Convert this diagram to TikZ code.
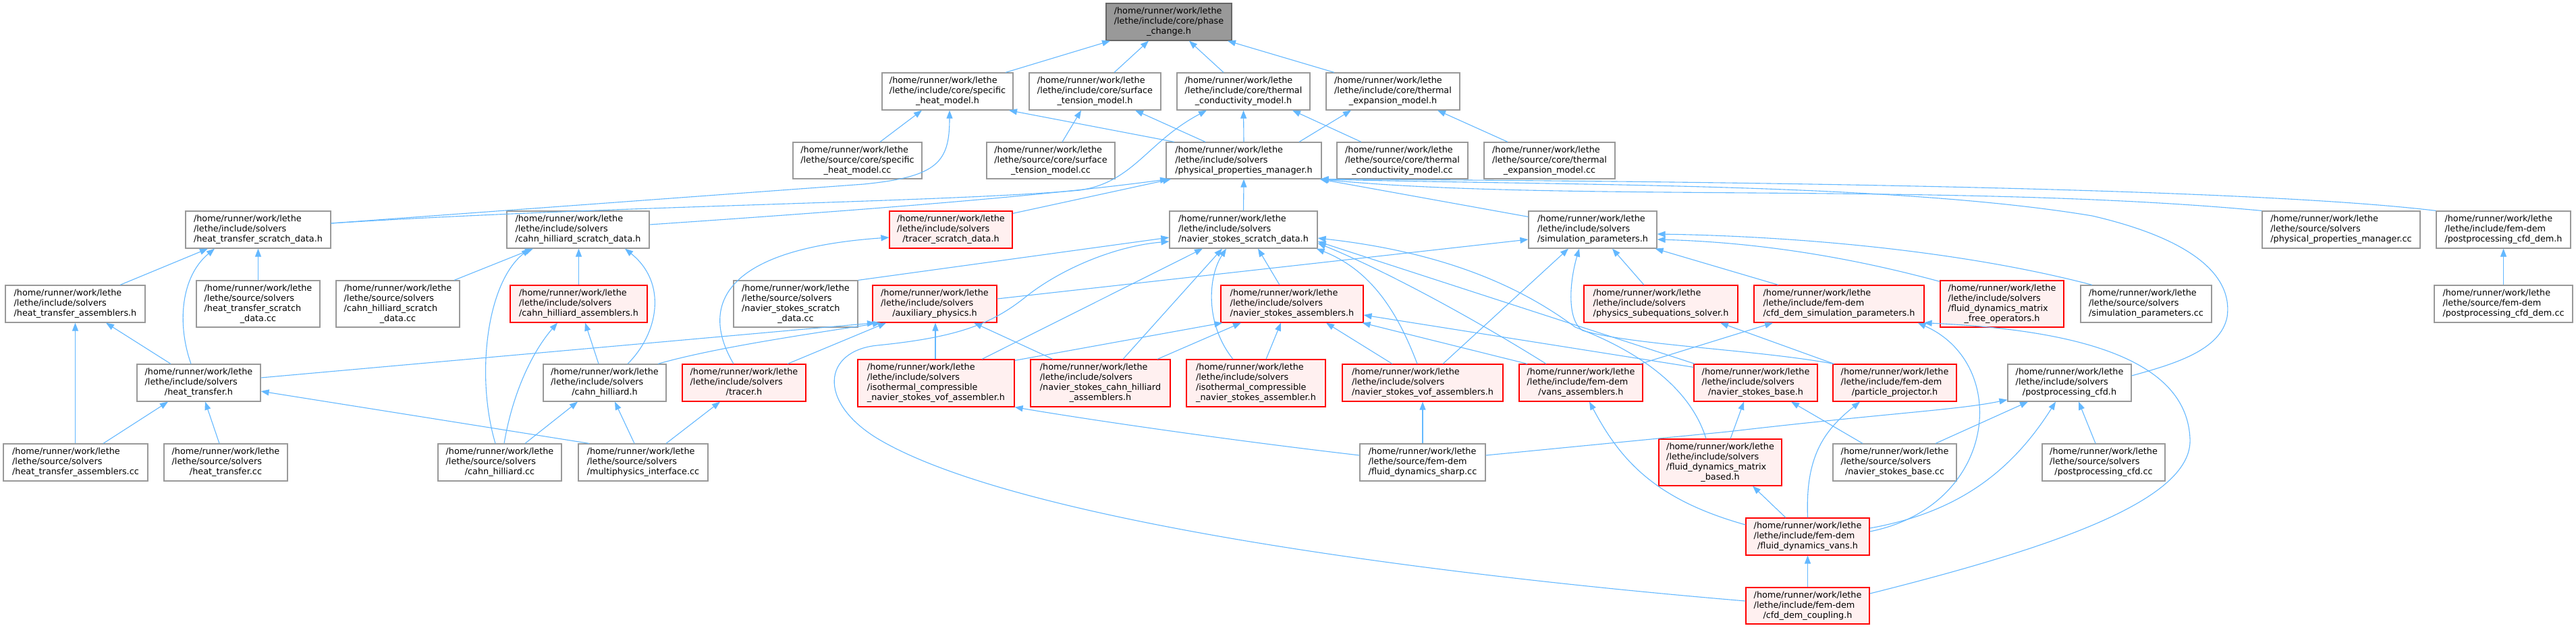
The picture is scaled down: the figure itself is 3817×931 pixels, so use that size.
\documentclass[tikz,border=0pt]{standalone}
\usepackage{fontspec}
\setmainfont{DejaVu Sans}
\usetikzlibrary{arrows.meta}
\definecolor{edgec}{HTML}{63B8FF}
\definecolor{grayb}{HTML}{999999}
\definecolor{rootf}{HTML}{999999}
\definecolor{rootb}{HTML}{666666}
\definecolor{redf}{HTML}{FFF0F0}
\definecolor{redb}{HTML}{FF0000}
\newcommand\lb[2]{\begin{tabular}{@{}l@{}}/home/runner/work/lethe\\#1\\\multicolumn{1}{@{}c@{}}{#2}\end{tabular}}
\newcommand\lbb[3]{\begin{tabular}{@{}l@{}}/home/runner/work/lethe\\#1\\#2\\\multicolumn{1}{@{}c@{}}{#3}\end{tabular}}
\newcommand\nd[6]{\node[#1,minimum width=#4pt,minimum height=#5pt] (#2) at (#3) {#6};}
\tikzset{
  basebox/.style={rectangle, inner sep=0pt, line width=1.2pt, font=\fontsize{12.8}{15}\selectfont, text=black},
  nb/.style={basebox, draw=grayb, fill=white},
  rb/.style={basebox, draw=redb, fill=redf},
  root/.style={basebox, draw=rootb, fill=rootf},
  inc/.style={draw=edgec, line width=1.1pt, -{Triangle[length=12pt,width=9pt]}}
}
\begin{document}
\begin{tikzpicture}[x=1pt,y=-1pt]
\fill[white] (0,0) rectangle (3817,931);
\useasboundingbox (0,0) rectangle (3817,931);
% row 0
\nd{root}{pc}{1732,32.5}{186}{55}{\lb{/lethe/include/core/phase}{\_change.h}}
% row 1
\nd{nb}{shm_h}{1404,135.5}{194}{55}{\lb{/lethe/include/core/specific}{\_heat\_model.h}}
\nd{nb}{stm_h}{1622.5,135.5}{195}{55}{\lb{/lethe/include/core/surface}{\_tension\_model.h}}
\nd{nb}{tcm_h}{1842.5,135.5}{197}{55}{\lb{/lethe/include/core/thermal}{\_conductivity\_model.h}}
\nd{nb}{tem_h}{2064,135.5}{198}{55}{\lb{/lethe/include/core/thermal}{\_expansion\_model.h}}
% row 2
\nd{nb}{shm_cc}{1270.5,238}{191}{54}{\lb{/lethe/source/core/specific}{\_heat\_model.cc}}
\nd{nb}{stm_cc}{1557,238}{190}{54}{\lb{/lethe/source/core/surface}{\_tension\_model.cc}}
\nd{nb}{ppm_h}{1843,238}{230}{54}{\lb{/lethe/include/solvers}{/physical\_properties\_manager.h}}
\nd{nb}{tcm_cc}{2078,238}{194}{54}{\lb{/lethe/source/core/thermal}{\_conductivity\_model.cc}}
\nd{nb}{tem_cc}{2296,238}{194}{54}{\lb{/lethe/source/core/thermal}{\_expansion\_model.cc}}
% row 3
\nd{nb}{htsd_h}{382.5,340.5}{215}{55}{\lb{/lethe/include/solvers}{/heat\_transfer\_scratch\_data.h}}
\nd{nb}{chsd_h}{856.5,340.5}{211}{55}{\lb{/lethe/include/solvers}{/cahn\_hilliard\_scratch\_data.h}}
\nd{rb}{tsd_h}{1409,340.5}{182}{55}{\lb{/lethe/include/solvers}{/tracer\_scratch\_data.h}}
\nd{nb}{nssd_h}{1842.5,340.5}{219}{55}{\lb{/lethe/include/solvers}{/navier\_stokes\_scratch\_data.h}}
\nd{nb}{sp_h}{2360,340.5}{190}{55}{\lb{/lethe/include/solvers}{/simulation\_parameters.h}}
\nd{nb}{ppm_cc}{3469,340.5}{234}{55}{\lb{/lethe/source/solvers}{/physical\_properties\_manager.cc}}
\nd{nb}{pcd_h}{3709.5,340.5}{199}{55}{\lb{/lethe/include/fem-dem}{/postprocessing\_cfd\_dem.h}}
% row 4
\nd{nb}{hta_h}{111.5,450.5}{207}{55}{\lb{/lethe/include/solvers}{/heat\_transfer\_assemblers.h}}
\nd{nb}{htsd_cc}{382.5,450.5}{183}{69}{\lbb{/lethe/source/solvers}{/heat\_transfer\_scratch}{\_data.cc}}
\nd{nb}{chsd_cc}{589.5,450.5}{183}{69}{\lbb{/lethe/source/solvers}{/cahn\_hilliard\_scratch}{\_data.cc}}
\nd{rb}{cha_h}{857.5,450.5}{203}{55}{\lb{/lethe/include/solvers}{/cahn\_hilliard\_assemblers.h}}
\nd{nb}{nssd_cc}{1179,450.5}{184}{69}{\lbb{/lethe/source/solvers}{/navier\_stokes\_scratch}{\_data.cc}}
\nd{rb}{aux_h}{1385,450.5}{184}{55}{\lb{/lethe/include/solvers}{/auxiliary\_physics.h}}
\nd{rb}{nsa_h}{1914.5,450.5}{211}{55}{\lb{/lethe/include/solvers}{/navier\_stokes\_assemblers.h}}
\nd{rb}{pss_h}{2461,450.5}{228}{55}{\lb{/lethe/include/solvers}{/physics\_subequations\_solver.h}}
\nd{rb}{cdsp_h}{2725,450.5}{252}{55}{\lb{/lethe/include/fem-dem}{/cfd\_dem\_simulation\_parameters.h}}
\nd{rb}{fdmfo_h}{2966.5,450.5}{183}{69}{\lbb{/lethe/include/solvers}{/fluid\_dynamics\_matrix}{\_free\_operators.h}}
\nd{nb}{sp_cc}{3180,450.5}{194}{55}{\lb{/lethe/source/solvers}{/simulation\_parameters.cc}}
\nd{nb}{pcd_cc}{3709.5,450.5}{205}{55}{\lb{/lethe/source/fem-dem}{/postprocessing\_cfd\_dem.cc}}
% row 5
\nd{nb}{ht_h}{294.5,567.5}{183}{55}{\lb{/lethe/include/solvers}{/heat\_transfer.h}}
\nd{nb}{ch_h}{896,567.5}{182}{55}{\lb{/lethe/include/solvers}{/cahn\_hilliard.h}}
\nd{rb}{tr_h}{1102.5,567.5}{183}{55}{\lb{/lethe/include/solvers}{/tracer.h}}
\nd{rb}{icnsvof_h}{1387,568}{232}{70}{\lbb{/lethe/include/solvers}{/isothermal\_compressible}{\_navier\_stokes\_vof\_assembler.h}}
\nd{rb}{nscha_h}{1630.5,568}{207}{70}{\lbb{/lethe/include/solvers}{/navier\_stokes\_cahn\_hilliard}{\_assemblers.h}}
\nd{rb}{icnsa_h}{1861,568}{206}{70}{\lbb{/lethe/include/solvers}{/isothermal\_compressible}{\_navier\_stokes\_assembler.h}}
\nd{rb}{nsvofa_h}{2108,567.5}{238}{55}{\lb{/lethe/include/solvers}{/navier\_stokes\_vof\_assemblers.h}}
\nd{rb}{vansa_h}{2342.5,567.5}{183}{55}{\lb{/lethe/include/fem-dem}{/vans\_assemblers.h}}
\nd{rb}{nsb_h}{2601.5,567.5}{183}{55}{\lb{/lethe/include/solvers}{/navier\_stokes\_base.h}}
\nd{rb}{pp_h}{2807.5,567.5}{183}{55}{\lb{/lethe/include/fem-dem}{/particle\_projector.h}}
\nd{nb}{pcfd_h}{3066.5,567.5}{183}{55}{\lb{/lethe/include/solvers}{/postprocessing\_cfd.h}}
% row 6
\nd{nb}{hta_cc}{112,685.5}{214}{55}{\lb{/lethe/source/solvers}{/heat\_transfer\_assemblers.cc}}
\nd{nb}{ht_cc}{334.5,685.5}{183}{55}{\lb{/lethe/source/solvers}{/heat\_transfer.cc}}
\nd{nb}{ch_cc}{740.5,685.5}{183}{55}{\lb{/lethe/source/solvers}{/cahn\_hilliard.cc}}
\nd{nb}{mpi_cc}{953,685.5}{192}{55}{\lb{/lethe/source/solvers}{/multiphysics\_interface.cc}}
\nd{nb}{fds_cc}{2108,685.5}{186}{55}{\lb{/lethe/source/fem-dem}{/fluid\_dynamics\_sharp.cc}}
\nd{rb}{fdmb_h}{2549,685.5}{182}{69}{\lbb{/lethe/include/solvers}{/fluid\_dynamics\_matrix}{\_based.h}}
\nd{nb}{nsb_cc}{2807.5,685.5}{183}{55}{\lb{/lethe/source/solvers}{/navier\_stokes\_base.cc}}
\nd{nb}{pcfd_cc}{3117,685.5}{182}{55}{\lb{/lethe/source/solvers}{/postprocessing\_cfd.cc}}
% rows 7-8
\nd{rb}{fdv_h}{2678.5,795.5}{183}{55}{\lb{/lethe/include/fem-dem}{/fluid\_dynamics\_vans.h}}
\nd{rb}{cdc_h}{2678.5,898}{183}{54}{\lb{/lethe/include/fem-dem}{/cfd\_dem\_coupling.h}}

% ---- edges (child -> included parent) ----
\draw[inc] ([xshift=86pt]shm_h.north) -- ([xshift=-87pt]pc.south);
\draw[inc] ([xshift=28.5pt]stm_h.north) -- ([xshift=-30pt]pc.south);
\draw[inc] ([xshift=-29.5pt]tcm_h.north) -- ([xshift=30pt]pc.south);
\draw[inc] ([xshift=-87pt]tem_h.north) -- ([xshift=87pt]pc.south);
\draw[inc] ([xshift=33.5pt]shm_cc.north) -- ([xshift=-38pt]shm_h.south);
\draw[inc] ([yshift=9.5pt]htsd_h.east) -- (1280,273) .. controls (1390,262) and (1407,240) .. ([xshift=3pt]shm_h.south);
\draw[inc] ([xshift=-103pt]ppm_h.north) -- ([xshift=91pt]shm_h.south);
\draw[inc] ([xshift=17pt]stm_cc.north) -- ([xshift=-20.5pt]stm_h.south);
\draw[inc] ([xshift=-57pt]ppm_h.north) -- ([xshift=59.5pt]stm_h.south);
\draw[inc] (ppm_h.north) -- (tcm_h.south);
\draw[inc] ([yshift=9.5pt]htsd_h.east) .. controls (900,305) and (1400,300) .. (1600,282) .. controls (1680,270) and (1700,210) .. ([xshift=-54.5pt]tcm_h.south);
\draw[inc] ([xshift=82pt]ppm_h.north) -- ([xshift=-62pt]tem_h.south);
\draw[inc] ([xshift=-61pt]tcm_cc.north) -- ([xshift=72.5pt]tcm_h.south);
\draw[inc] ([xshift=-62pt]tem_cc.north) -- ([xshift=66pt]tem_h.south);
\draw[inc] ([yshift=7.5pt]chsd_h.east) .. controls (1300,310) and (1550,290) .. ([xshift=-112pt]ppm_h.south);
\draw[inc] ([yshift=-4pt]tsd_h.north east) -- ([xshift=-108pt]ppm_h.south);
\draw[inc] (nssd_h.north) -- (ppm_h.south);
\draw[inc] ([yshift=-9pt]sp_h.north west) -- ([xshift=-3pt]ppm_h.south east);
\draw[inc] (ppm_cc.north west) .. controls (2900,270) and (2300,300) .. ([xshift=-2pt]ppm_h.south east);
\draw[inc] (pcd_h.north west) .. controls (3300,275) and (2400,268) .. ([xshift=-2pt]ppm_h.south east);
\draw[inc] ([yshift=10.5pt]pcfd_h.east) .. controls (3220,540) and (3290,520) .. (3300,470) .. controls (3310,400) and (3230,350) .. (3100,320) .. controls (2800,270) and (2300,275) .. ([xshift=-2pt]ppm_h.south east);
% heat transfer
\draw[inc] ([xshift=66.5pt]hta_h.north) -- ([xshift=-74.5pt]htsd_h.south);
\draw[inc] ([xshift=-11.5pt]ht_h.north) .. controls (262,480) and (268,410) .. ([xshift=-64.5pt]htsd_h.south);
\draw[inc] (htsd_cc.north) -- (htsd_h.south);
\draw[inc] ([xshift=-0.5pt]hta_cc.north) -- (hta_h.south);
\draw[inc] ([xshift=-41.5pt]ht_h.north) -- ([xshift=45.5pt]hta_h.south);
\draw[inc] ([xshift=41pt]hta_cc.north) -- ([xshift=-45.5pt]ht_h.south);
\draw[inc] ([xshift=-9.5pt]ht_cc.north) -- ([xshift=9.5pt]ht_h.south);
\draw[inc] ([yshift=7.5pt]ht_h.east) -- ([xshift=-88pt]aux_h.south);
\draw[inc] ([xshift=-80pt]mpi_cc.north) -- ([yshift=-12.5pt]ht_h.east);
% cahn hilliard
\draw[inc] ([xshift=83.5pt]chsd_cc.north) -- ([xshift=-66.5pt]chsd_h.south);
\draw[inc] (cha_h.north) -- ([xshift=1pt]chsd_h.south);
\draw[inc] ([xshift=34pt]ch_h.north) .. controls (975,495) and (990,420) .. ([xshift=69.5pt]chsd_h.south);
\draw[inc] ([xshift=-6.5pt]ch_cc.north) .. controls (705,560) and (720,420) .. ([xshift=-71.5pt]chsd_h.south);
\draw[inc] ([xshift=6.5pt]ch_cc.north) .. controls (760,580) and (790,520) .. ([xshift=-31.5pt]cha_h.south);
\draw[inc] ([xshift=-9pt]ch_h.north) -- ([xshift=9.5pt]cha_h.south);
\draw[inc] ([xshift=37.5pt]ch_cc.north) -- ([xshift=-40pt]ch_h.south);
\draw[inc] ([xshift=-13pt]mpi_cc.north) -- ([xshift=15pt]ch_h.south);
\draw[inc] ([xshift=79pt]ch_h.north) .. controls (1060,515) and (1200,495) .. ([xshift=-80pt]aux_h.south);
% tracer
\draw[inc] ([xshift=34pt]mpi_cc.north) -- ([xshift=-35.5pt]tr_h.south);
\draw[inc] ([xshift=-15.5pt]tr_h.north) .. controls (1040,460) and (1060,370) .. ([yshift=-11.5pt]tsd_h.west);
\draw[inc] ([xshift=64.5pt]tr_h.north) -- ([xshift=-72pt]aux_h.south);
% auxiliary physics
\draw[inc] ([yshift=7.5pt]aux_h.east) -- ([yshift=-14.5pt]sp_h.west);
\draw[inc] ([xshift=-1pt]icnsvof_h.north) -- ([xshift=1pt]aux_h.south);
\draw[inc] ([xshift=-70.5pt]nscha_h.north) -- ([xshift=58pt]aux_h.south);
% navier stokes scratch data
\draw[inc] (nssd_cc.north east) -- ([yshift=-11.5pt]nssd_h.west);
\draw[inc] ([xshift=68pt]icnsvof_h.north) -- ([xshift=-60.5pt]nssd_h.south);
\draw[inc] ([xshift=33.5pt]nscha_h.north) -- ([xshift=-31.5pt]nssd_h.south);
\draw[inc] ([xshift=-34pt]icnsa_h.north) .. controls (1785,480) and (1790,410) .. ([xshift=-25.5pt]nssd_h.south);
\draw[inc] ([xshift=-18.5pt]nsa_h.north) -- ([xshift=21.5pt]nssd_h.south);
\draw[inc] ([xshift=-8pt]nsvofa_h.north) .. controls (2070,460) and (2030,400) .. ([xshift=-2pt]nssd_h.south east);
\draw[inc] ([xshift=-51.5pt]vansa_h.north) .. controls (2180,470) and (2050,400) .. ([yshift=-20pt]nssd_h.east);
\draw[inc] ([xshift=2pt]nsb_h.north west) -- ([yshift=-17.5pt]nssd_h.east);
\draw[inc] ([xshift=-21pt]fdmb_h.north) .. controls (2500,560) and (2400,510) .. (2334,485) .. controls (2260,430) and (2150,375) .. ([yshift=-12.5pt]nssd_h.east);
\draw[inc] ([yshift=7pt]cdc_h.west) .. controls (2100,850) and (1500,770) .. (1300,650) .. controls (1210,595) and (1220,520) .. (1300,512) .. controls (1420,500) and (1470,480) .. (1520,440) .. controls (1570,400) and (1650,365) .. ([yshift=-17.5pt]nssd_h.west);
% simulation parameters
\draw[inc] ([xshift=2pt]pp_h.north west) .. controls (2600,518) and (2420,512) .. (2345,490) .. controls (2322,475) and (2325,420) .. ([xshift=-20pt]sp_h.south);
\draw[inc] ([xshift=2pt]pp_h.north west) -- ([xshift=88pt]pss_h.south);
\draw[inc] ([xshift=30pt]nsvofa_h.north) -- ([xshift=-36pt]sp_h.south);
\draw[inc] ([xshift=-25pt]pss_h.north) -- ([xshift=29pt]sp_h.south);
\draw[inc] ([xshift=-90pt]cdsp_h.north) -- ([xshift=-3pt]sp_h.south east);
\draw[inc] ([yshift=-2pt]fdmfo_h.north west) .. controls (2700,370) and (2560,358) .. ([yshift=-14.5pt]sp_h.east);
\draw[inc] ([xshift=-80pt]sp_cc.north) .. controls (2900,370) and (2650,350) .. ([yshift=-6.5pt]sp_h.east);
% navier stokes assemblers
\draw[inc] ([yshift=-2pt]icnsvof_h.north east) -- ([xshift=3pt]nsa_h.south west);
\draw[inc] ([xshift=84.5pt]nscha_h.north) -- ([xshift=-75.5pt]nsa_h.south);
\draw[inc] ([xshift=15pt]icnsa_h.north) -- ([xshift=-16.5pt]nsa_h.south);
\draw[inc] ([xshift=-45pt]nsvofa_h.north) -- ([xshift=50.5pt]nsa_h.south);
\draw[inc] ([xshift=-79.5pt]vansa_h.north) -- ([xshift=-2pt]nsa_h.south east);
\draw[inc] ([yshift=-5pt]nsb_h.north west) -- ([yshift=-16.5pt]nsa_h.east);
% navier stokes base and below
\draw[inc] ([xshift=15pt]fdmb_h.north) -- ([xshift=-17.5pt]nsb_h.south);
\draw[inc] ([xshift=-47.5pt]nsb_cc.north) -- ([xshift=52.5pt]nsb_h.south);
\draw[inc] ([yshift=10.5pt]fds_cc.east) -- (2560,640) .. controls (2800,612) and (2900,608) .. ([yshift=3pt]pcfd_h.south west);
\draw[inc] (fds_cc.north) -- (nsvofa_h.south);
\draw[inc] ([yshift=10.5pt]fds_cc.west) .. controls (1800,650) and (1600,620) .. (icnsvof_h.south east);
\draw[inc] ([xshift=60.5pt]nsb_cc.north) -- ([xshift=-61.5pt]pcfd_h.south);
\draw[inc] ([yshift=12.5pt]fdv_h.east) .. controls (2900,760) and (2980,700) .. ([xshift=-20.5pt]pcfd_h.south);
\draw[inc] ([xshift=-12pt]pcfd_cc.north) -- ([xshift=13.5pt]pcfd_h.south);
\draw[inc] ([xshift=-4pt]vansa_h.north east) -- ([xshift=-98pt]cdsp_h.south);
\draw[inc] ([yshift=7.5pt]fdv_h.east) .. controls (2960,750) and (2980,540) .. ([xshift=-10pt]cdsp_h.south east);
\draw[inc] ([yshift=18pt]cdc_h.east) .. controls (3050,810) and (3250,740) .. (3245,650) .. controls (3240,540) and (3100,490) .. ([xshift=-1pt]cdsp_h.south east);
\draw[inc] (fdv_h.north) .. controls (2675,680) and (2700,640) .. ([xshift=-51.5pt]pp_h.south);
\draw[inc] ([xshift=-32.5pt]fdv_h.north) -- ([xshift=48pt]fdmb_h.south);
\draw[inc] ([yshift=17.5pt]fdv_h.west) .. controls (2450,740) and (2400,680) .. ([xshift=12.5pt]vansa_h.south);
\draw[inc] (cdc_h.north) -- (fdv_h.south);
\draw[inc] (pcd_cc.north) -- (pcd_h.south);
\end{tikzpicture}
\end{document}
